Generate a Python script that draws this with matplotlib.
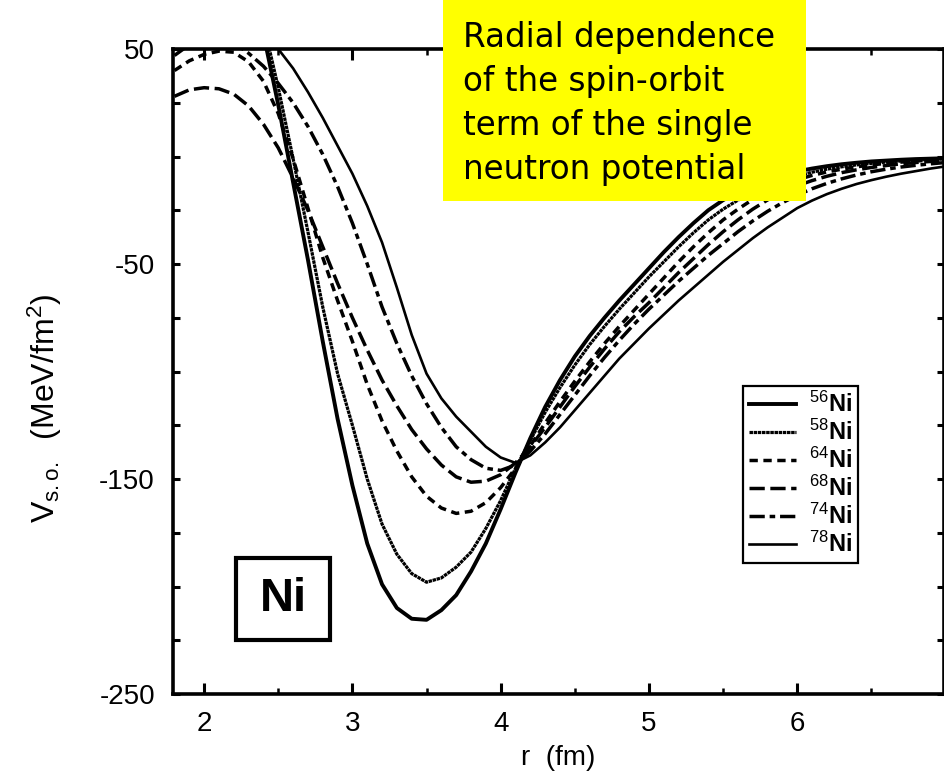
import matplotlib
matplotlib.use('Agg')
import matplotlib.pyplot as plt
from matplotlib.patches import Rectangle
from matplotlib.ticker import MultipleLocator

plt.rcParams['font.family'] = ['Liberation Sans', 'DejaVu Sans']
plt.rcParams['mathtext.fontset'] = 'custom'
plt.rcParams['mathtext.rm'] = 'Liberation Sans'
plt.rcParams['mathtext.it'] = 'Liberation Sans:italic'
plt.rcParams['mathtext.bf'] = 'Liberation Sans:bold'
plt.rcParams['axes.unicode_minus'] = False
plt.rcParams['lines.scale_dashes'] = False

# radial grid (fm)
r_fm = [1.8, 1.9, 2.0, 2.1, 2.2, 2.3, 2.4, 2.5, 2.6, 2.7,
        2.8, 2.9, 3.0, 3.1, 3.2, 3.3, 3.4, 3.5, 3.6, 3.7,
        3.8, 3.9, 4.0, 4.1, 4.2, 4.3, 4.4, 4.5, 4.6, 4.7,
        4.8, 4.9, 5.0, 5.1, 5.2, 5.3, 5.4, 5.5, 5.6, 5.7,
        5.8, 5.9, 6.0, 6.1, 6.2, 6.3, 6.4, 6.5, 6.6, 6.7,
        6.8, 6.9, 7.0]

# spin-orbit term V_s.o. (MeV/fm^2) for each isotope
v_ni56 = [70, 82, 88, 90, 86, 75, 57, 24, -12, -48,
          -86, -122, -153, -180, -199, -210, -215, -215.5, -211, -204,
          -193, -180, -164, -147, -131, -116.5, -104, -93, -83.5, -75,
          -67, -59.5, -52, -44.5, -37.5, -31, -25, -20.3, -16.5, -13.3,
          -10.7, -8.6, -6.9, -5.6, -4.5, -3.6, -2.9, -2.3, -1.9, -1.5,
          -1.2, -1.0, -0.8]
v_ni58 = [62, 72, 78, 80, 77, 70, 62, 32, -1, -35,
          -70, -101, -125, -150, -171, -185, -194, -198, -196, -191,
          -184, -173, -160, -145, -132, -119, -107.5, -97, -87.5, -79,
          -71, -63.5, -56, -49, -42, -35.5, -29.5, -24.5, -20.3, -16.6,
          -13.5, -11, -9, -7.3, -5.9, -4.8, -3.9, -3.2, -2.6, -2.1,
          -1.7, -1.4, -1.1]
v_ni64 = [40, 44.5, 47.5, 49, 48.5, 44, 35, 20, -1, -24,
          -47, -67, -86, -106, -123, -137, -149, -158, -163.5, -166,
          -165, -161, -154, -145, -134.5, -124, -114, -104.5, -95.5, -87,
          -79, -71.5, -64, -56.5, -49, -42, -35.5, -29.5, -24.5, -20,
          -16.3, -13.3, -10.8, -8.8, -7.2, -5.9, -4.8, -3.9, -3.2, -2.6,
          -2.1, -1.7, -1.4]
v_ni68 = [28, 31, 32, 31.5, 29, 23.5, 15, 4, -10, -25,
          -42, -59, -75, -90, -104, -116, -127, -136, -143.5, -149,
          -151.5, -151, -148, -142.5, -135, -126, -116.5, -107, -98, -89.5,
          -81.5, -74.5, -68, -61, -54, -47.5, -41, -35, -29.5, -24.5,
          -20.2, -16.6, -13.6, -11.2, -9.2, -7.5, -6.2, -5.1, -4.2, -3.4,
          -2.8, -2.3, -1.9]
v_ni74 = [47, 52, 54.5, 55, 53, 48, 42, 34, 25, 14,
          1, -14, -31, -50, -70, -87, -102, -115, -126, -135,
          -141, -145, -146, -143.5, -137, -129, -120, -111, -102, -93.5,
          -85.5, -78, -71, -64.5, -58, -52, -46, -40.5, -35, -30,
          -25.5, -21.5, -18, -15, -12.5, -10.4, -8.6, -7.1, -5.9, -4.9,
          -4.1, -3.4, -2.8]
v_ni78 = [52, 57, 60, 62, 62, 60, 56, 50, 41, 30,
          18, 5, -8, -23, -40, -61, -83, -101, -112.5, -121,
          -128, -135, -140, -142.5, -139, -133, -126, -118, -110, -102,
          -94, -87, -80, -73.5, -67, -61, -55, -49, -43.5, -38,
          -33, -28.5, -24, -20.5, -17.5, -15, -12.8, -11, -9.4, -8,
          -6.8, -5.6, -4.6]

labels = [r'$^{56}\mathbf{Ni}$', r'$^{58}\mathbf{Ni}$', r'$^{64}\mathbf{Ni}$',
          r'$^{68}\mathbf{Ni}$', r'$^{74}\mathbf{Ni}$', r'$^{78}\mathbf{Ni}$']

fig = plt.figure(figsize=(9.45, 7.77), dpi=100)
ax = fig.add_axes([173 / 945, 1 - 694 / 777, 771 / 945, 645 / 777])

ax.plot(r_fm, v_ni56, color='black', lw=2.8, ls='-', label=labels[0])
ax.plot(r_fm, v_ni58, color='black', lw=2.3, ls=(0, (2.5, 0.5)), label=labels[1])
ax.plot(r_fm, v_ni64, color='black', lw=2.5, ls=(0, (6, 4)), label=labels[2])
ax.plot(r_fm, v_ni68, color='black', lw=2.5, ls=(0, (11, 4)), label=labels[3])
ax.plot(r_fm, v_ni74, color='black', lw=2.5, ls=(0, (11, 3.5, 4, 3.5)), label=labels[4])
ax.plot(r_fm, v_ni78, color='black', lw=1.9, ls='-', label=labels[5])

ax.set_xlim(1.79, 6.99)
ax.set_ylim(-250, 50)

ax.xaxis.set_major_locator(MultipleLocator(1))
ax.xaxis.set_minor_locator(MultipleLocator(0.5))
ax.set_yticks([50, -50, -150, -250])
ax.yaxis.set_minor_locator(MultipleLocator(25))
ax.tick_params(which='both', direction='in', top=True, right=True, labelsize=20)
ax.tick_params(axis='x', which='major', length=8, width=2.2, pad=12)
ax.tick_params(axis='x', which='minor', length=4, width=1.8)
ax.tick_params(axis='y', which='both', length=5, width=2.2, pad=13)
for sp in ax.spines.values():
    sp.set_linewidth(2.6)

ax.set_xlabel('r  (fm)', fontsize=20, labelpad=6)
fig.text(45 / 945, 1 - 408 / 777, r'V$_{\rm s.o.}$  (MeV/fm$^2$)', rotation=90,
         fontsize=23, ha='center', va='center')

leg = ax.legend(loc='upper left', bbox_to_anchor=(0.739, 0.4775), fontsize=17,
                frameon=True, fancybox=False, edgecolor='black', framealpha=1,
                handlelength=2.0, handletextpad=0.55, labelspacing=0.12,
                borderpad=0.25, borderaxespad=0)
leg.get_frame().set_linewidth(1.6)

# element tag
ax.add_patch(Rectangle((63 / 771, 54 / 645), 94 / 771, 82 / 645, transform=ax.transAxes,
                       fill=False, edgecolor='black', lw=3))
ax.text(110 / 771, 95 / 645, 'Ni', transform=ax.transAxes, fontsize=34,
        fontweight='bold', ha='center', va='center')

# yellow note
fig.patches.append(Rectangle((443 / 945, 1 - 201 / 777), 363 / 945, 201 / 777,
                             transform=fig.transFigure, facecolor='#ffff00',
                             edgecolor='none', zorder=5))
fig.text(463 / 945, 1 - 21 / 777,
         'Radial dependence\nof the spin-orbit\nterm of the single\nneutron potential',
         fontsize=23.5, family='DejaVu Sans', ha='left', va='top',
         linespacing=1.42, zorder=6)

fig.savefig('out.png', dpi=100)
